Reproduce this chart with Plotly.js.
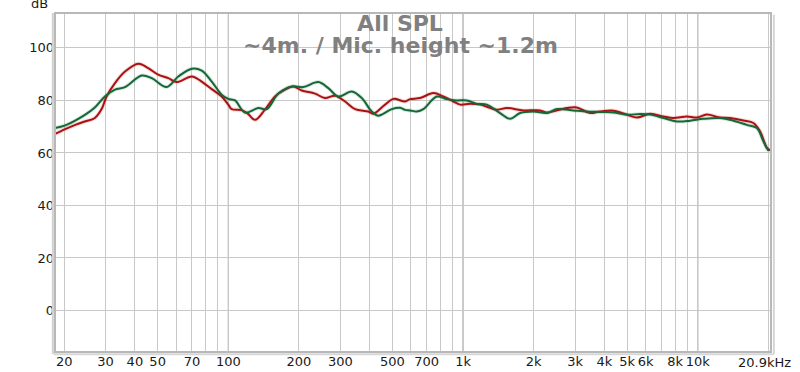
<!DOCTYPE html>
<html>
<head>
<meta charset="utf-8">
<script src="https://cdn.plot.ly/plotly-3.0.1.min.js"></script>
<style>html,body{margin:0;padding:0;background:#fff;}#chart{width:800px;height:372px;}</style>
</head>
<body>
<div id="chart"></div>
<script>
// Red measurement (Hz, dB)
const freqRed = [18.3, 20.2, 22.3, 24.5, 27.0, 28.9, 30.3, 32.9, 36.3, 41.4, 45.6, 50.3, 55.5, 60.3, 69.9, 77.0, 85.0, 93.7, 100, 103.4, 114, 121, 130, 143.3, 158.1, 174.4, 189.2, 205.5, 234.1, 258.2, 284.9, 314.2, 346.7, 395, 414.8, 465.3, 504.7, 566.1, 594.6, 655.8, 747.1, 824.3, 909.3, 970.9, 1071, 1182, 1392, 1536, 1807, 2129, 2274, 2766, 3051, 3476, 3835, 4370, 4983, 5497, 6263, 7137, 7870, 8977, 9901, 10924, 12445, 13729, 15643, 17256, 18428, 19681, 20330];
const splRed  = [67.3, 69.1, 70.7, 72.0, 73.3, 76.8, 81.5, 86.6, 91.0, 94.0, 92.3, 89.8, 88.5, 87.0, 89.1, 87.2, 84.3, 81.5, 78.4, 76.7, 76.3, 75.0, 72.6, 76.5, 81.5, 84.1, 85.3, 83.8, 82.6, 80.9, 81.8, 79.6, 76.7, 75.8, 74.9, 78.4, 80.6, 79.6, 80.5, 80.9, 82.8, 81.5, 79.6, 78.4, 78.7, 78.4, 76.5, 77.1, 76.2, 76.2, 75.4, 77.1, 77.3, 75.2, 75.8, 76.1, 74.6, 73.5, 74.9, 73.9, 73.3, 73.9, 73.5, 74.6, 73.5, 73.3, 72.4, 71.4, 68.2, 61.9, 61.0];

// Green measurement (Hz, dB)
const freqGreen = [18.3, 20.2, 24.5, 27.0, 29.8, 32.9, 36.3, 42.8, 47.2, 54.6, 61.2, 69.9, 77.0, 85.0, 93.7, 100, 106.8, 117.8, 134.2, 145.8, 163.3, 186.3, 208.7, 241.8, 266.7, 294.2, 335.7, 370.2, 408.3, 435.6, 496.9, 539, 566, 594.6, 634.9, 677.4, 772.6, 852.2, 939.9, 1037, 1144, 1262, 1438, 1586, 1750, 1993, 2274, 2508, 2951, 3365, 3835, 4370, 4983, 5677, 6263, 7137, 8139, 9273, 10566, 12445, 14182, 16175, 17841, 19031, 19990];
const splGreen  = [69.5, 70.5, 74.5, 77.3, 81.5, 84.1, 85.1, 89.5, 88.5, 85.1, 89.1, 92.1, 91.4, 87.2, 82.2, 80.6, 80.0, 75.4, 77.1, 76.7, 82.6, 85.3, 85.1, 87.0, 84.7, 81.5, 83.4, 80.9, 75.8, 74.2, 76.7, 77.2, 76.4, 76.2, 75.8, 76.7, 81.5, 80.5, 80.0, 80.0, 78.7, 78.4, 75.2, 73.0, 75.2, 75.8, 75.2, 76.7, 76.2, 75.8, 75.6, 75.4, 74.6, 74.8, 74.6, 73.3, 72.0, 72.3, 73.0, 73.3, 72.3, 70.7, 69.5, 64.4, 60.8];

// Axis ticks
const xTickVals = [20, 30, 40, 50, 60, 70, 80, 90, 100, 200, 300, 400, 500, 600, 700, 800, 900, 1000, 2000, 3000, 4000, 5000, 6000, 7000, 8000, 9000, 10000, 20000];
const xTickText = ['20', '30', '40', '50', '', '70', '', '', '100', '200', '300', '', '500', '', '700', '', '', '1k', '2k', '3k', '4k', '5k', '6k', '', '8k', '', '10k', ''];
const yTickVals = [0, 20, 40, 60, 80, 100];
const decadeLines = [100, 1000, 10000];
const xRange = [18.27, 20500];
const yRange = [-15.8, 113.3];
const titleText = 'All SPL';
const subtitleText = '~4m. / Mic. height ~1.2m';
const yUnit = 'dB';
const xEndLabel = '20.9kHz';

const FONT = 'DejaVu Sans, Verdana, sans-serif';

const traces = [
  {x: freqRed, y: splRed, type: 'scatter', mode: 'lines', line: {color: 'rgba(200,60,60,0.18)', width: 4, shape: 'spline', smoothing: 1}, hoverinfo: 'skip', showlegend: false},
  {x: freqGreen, y: splGreen, type: 'scatter', mode: 'lines', line: {color: 'rgba(40,140,80,0.18)', width: 4, shape: 'spline', smoothing: 1}, hoverinfo: 'skip', showlegend: false},
  {x: freqRed, y: splRed, type: 'scatter', mode: 'lines', line: {color: '#ab1111', width: 2, shape: 'spline', smoothing: 1}, showlegend: false},
  {x: freqGreen, y: splGreen, type: 'scatter', mode: 'lines', line: {color: '#17663a', width: 2, shape: 'spline', smoothing: 1}, showlegend: false}
];

const shapes = decadeLines.map(f => ({type: 'line', xref: 'x', yref: 'paper', x0: f, x1: f, y0: 0, y1: 1, line: {color: '#8c8c8c', width: 1}, layer: 'below'}));
// frame and shadow
shapes.push({type: 'rect', xref: 'paper', yref: 'paper', x0: 0, x1: 1, y0: 0, y1: 1, line: {color: '#b8b8b8', width: 2}, layer: 'above'});
shapes.push({type: 'line', xref: 'paper', yref: 'paper', x0: 1.004, x1: 1.004, y0: -0.006, y1: 0.995, line: {color: '#d6d6d6', width: 2}});
shapes.push({type: 'line', xref: 'paper', yref: 'paper', x0: -0.002, x1: 1.004, y0: -0.007, y1: -0.007, line: {color: '#d6d6d6', width: 2}});
shapes.push({type: 'line', xref: 'paper', yref: 'paper', x0: -0.003, x1: -0.003, y0: -0.006, y1: 1, line: {color: '#d0d0d0', width: 2}});

const layout = {
  width: 800, height: 372,
  margin: {l: 55, r: 29, t: 13, b: 20, pad: 0},
  paper_bgcolor: '#ffffff', plot_bgcolor: '#ffffff',
  showlegend: false,
  title: {text: '<b>' + titleText + '</b>', font: {family: FONT, size: 22, color: '#808080'}, x: (400 - 55) / 716, xref: 'paper', xanchor: 'center', y: 1 - 23 / 372, yref: 'container', yanchor: 'middle'},
  xaxis: {
    type: 'log', range: xRange.map(Math.log10), tickmode: 'array', tickvals: xTickVals, ticktext: xTickText, tickangle: 0,
    showgrid: true, gridcolor: '#c8c8c8', gridwidth: 1, zeroline: false, showline: false, ticks: '',
    tickfont: {family: FONT, size: 13, color: '#1a1a1a'}, fixedrange: true
  },
  yaxis: {
    range: yRange, tickmode: 'array', tickvals: yTickVals,
    showgrid: true, gridcolor: '#c8c8c8', gridwidth: 1, zeroline: false, showline: false, ticks: '',
    tickfont: {family: FONT, size: 13, color: '#1a1a1a'}, fixedrange: true
  },
  shapes: shapes,
  annotations: [
    {text: '<b>' + subtitleText + '</b>', xref: 'paper', yref: 'paper', x: (400 - 55) / 716, y: 1 - (45 - 13) / 339, xanchor: 'center', yanchor: 'middle', showarrow: false, font: {family: FONT, size: 22, color: '#808080'}},
    {text: yUnit, xref: 'paper', yref: 'paper', x: -5 / 716, y: 1 + 10 / 339, xanchor: 'right', yanchor: 'middle', showarrow: false, font: {family: FONT, size: 13, color: '#1a1a1a'}},
    {text: xEndLabel, xref: 'paper', yref: 'paper', x: (764 - 55) / 716, y: -(363 - 352) / 339, xanchor: 'center', yanchor: 'middle', showarrow: false, font: {family: FONT, size: 13, color: '#1a1a1a'}}
  ]
};

Plotly.newPlot('chart', traces, layout, {displayModeBar: false, staticPlot: true});
</script>
</body>
</html>
